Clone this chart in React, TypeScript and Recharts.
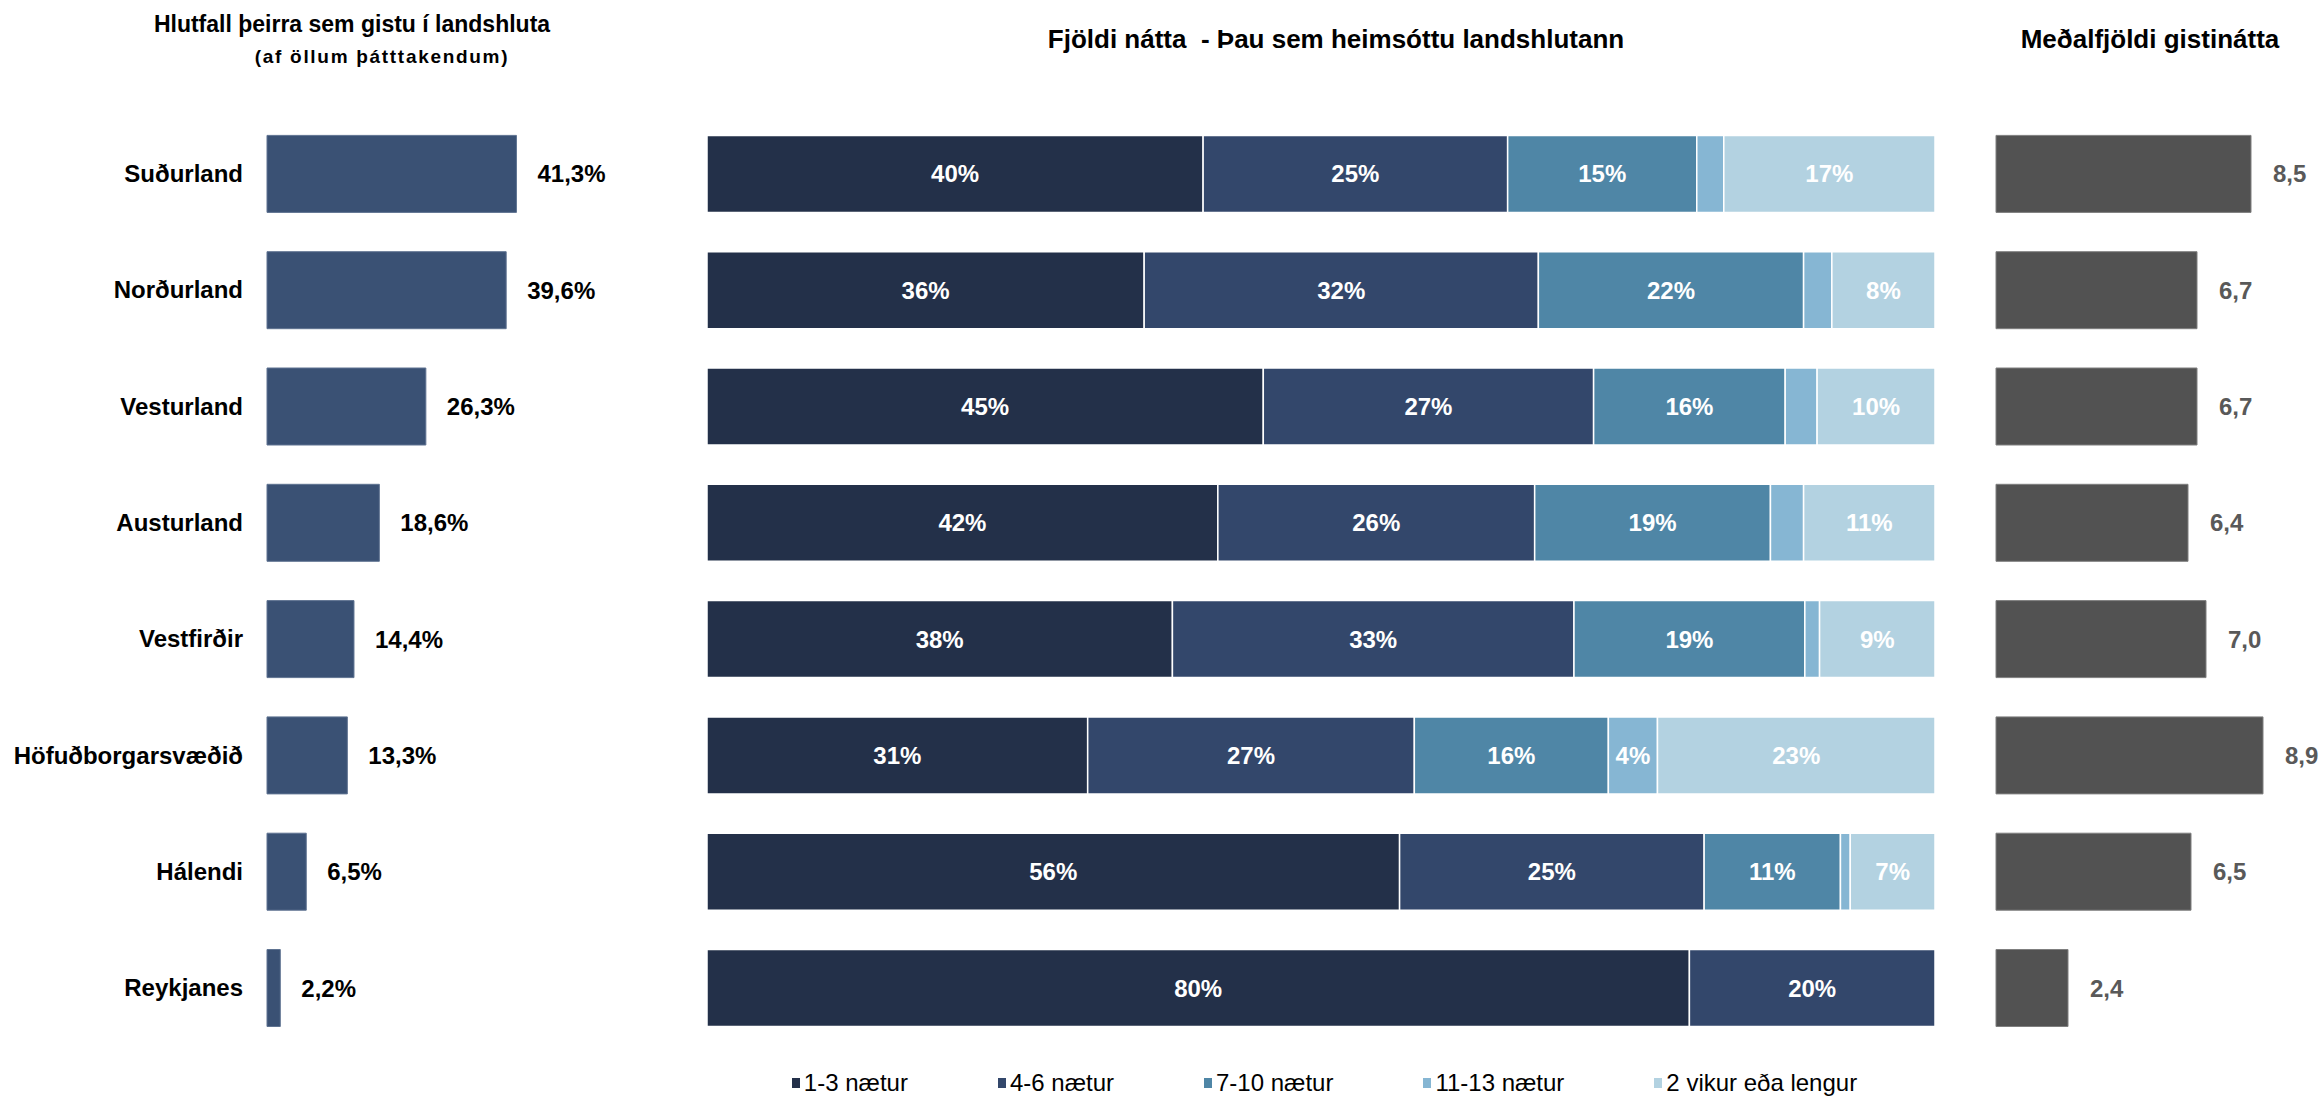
import React from 'react';
import { BarChart, Bar, XAxis, YAxis, LabelList, Legend } from 'recharts';

// ---------- data ----------
const regions = [
  'Suðurland',
  'Norðurland',
  'Vesturland',
  'Austurland',
  'Vestfirðir',
  'Höfuðborgarsvæðið',
  'Hálendi',
  'Reykjanes',
];
const shareStayed = [41.3, 39.6, 26.3, 18.6, 14.4, 13.3, 6.5, 2.2];
const nights1to3 = [40.4, 35.6, 45.3, 41.6, 37.9, 31.0, 56.4, 80];
const nights4to6 = [24.8, 32.1, 26.9, 25.8, 32.7, 26.6, 24.8, 20];
const nights7to10 = [15.4, 21.6, 15.6, 19.2, 18.8, 15.8, 11.1, 0];
const nights11to13 = [2.2, 2.3, 2.6, 2.7, 1.2, 4.0, 0.8, 0];
const nights14plus = [17.2, 8.4, 9.6, 10.7, 9.4, 22.6, 6.9, 0];
const avgNights = [8.5, 6.7, 6.7, 6.4, 7.0, 8.9, 6.5, 2.4];
const seriesNames = ['1-3 nætur', '4-6 nætur', '7-10 nætur', '11-13 nætur', '2 vikur eða lengur'];
const seriesKeys = ['n1', 'n2', 'n3', 'n4', 'n5'];
const seriesColors = ['#233049', '#33476b', '#4f86a6', '#86b6d3', '#b3d2e1'];
const titleLeft = 'Hlutfall þeirra sem gistu í landshluta';
const subtitleLeft = '(af öllum þátttakendum)';
const titleMiddle = 'Fjöldi nátta  - Þau sem heimsóttu landshlutann';
const titleRight = 'Meðalfjöldi gistinátta';

// ---------- derived tables ----------
const seriesValues = [nights1to3, nights4to6, nights7to10, nights11to13, nights14plus];
const tableData = regions.map((region, i) => {
  const row: any = { region, share: shareStayed[i], avg: avgNights[i] };
  seriesKeys.forEach((k, s) => {
    row[k] = seriesValues[s][i];
  });
  return row;
});

// ---------- layout ----------
const FONT = '"Liberation Sans", Arial, Helvetica, sans-serif';
const H = 1098;
const PLOT_TOP = 115.4;
const PLOT_BOTTOM = 52.2;
const BAR = 77;

const fmtPct1 = (v: any) => `${Number(v).toFixed(1).replace('.', ',')}%`;
const fmtDec1 = (v: any) => Number(v).toFixed(1).replace('.', ',');
const fmtSeg = (v: any) => (Number(v) >= 3 ? `${Math.round(Number(v))}%` : '');

const titleStyle = (
  cx: number,
  cy: number,
  size: number,
  letterSpacing = 0
): React.CSSProperties => ({
  position: 'absolute',
  left: cx - 400,
  width: 800,
  top: cy - size * 0.6,
  lineHeight: `${size * 1.2}px`,
  fontSize: size,
  fontWeight: 700,
  fontFamily: FONT,
  textAlign: 'center',
  color: '#000',
  whiteSpace: 'pre',
  letterSpacing,
});

const LegendContent = () => (
  <div
    style={{
      height: 30,
      display: 'flex',
      justifyContent: 'center',
      alignItems: 'center',
      fontFamily: FONT,
      fontSize: 24,
      color: '#000',
      paddingRight: 11,
    }}
  >
    {seriesNames.map((name, i) => (
      <div
        key={name}
        style={{
          display: 'flex',
          alignItems: 'center',
          marginRight: i < seriesNames.length - 1 ? 90 : 0,
          whiteSpace: 'nowrap',
        }}
      >
        <span
          style={{
            display: 'inline-block',
            width: 8,
            height: 10,
            background: seriesColors[i],
            marginRight: 4,
          }}
        />
        <span>{name}</span>
      </div>
    ))}
  </div>
);

export default function App() {
  return (
    <div
      style={{
        position: 'absolute',
        left: 0,
        top: 0,
        width: 2323,
        height: H,
        background: '#fff',
        overflow: 'hidden',
      }}
    >
      {/* titles */}
      <div style={titleStyle(352, 25, 23)}>{titleLeft}</div>
      <div style={titleStyle(382, 57, 19, 1.7)}>{subtitleLeft}</div>
      <div style={titleStyle(1336, 40, 26)}>{titleMiddle}</div>
      <div style={titleStyle(2150, 40, 26)}>{titleRight}</div>

      {/* left: share of respondents who stayed */}
      <div style={{ position: 'absolute', left: 0, top: 0 }}>
        <BarChart
          layout="vertical"
          width={660}
          height={H}
          data={tableData}
          margin={{ top: PLOT_TOP, bottom: PLOT_BOTTOM, left: 0, right: 91 }}
        >
          <XAxis type="number" hide domain={[0, 50]} />
          <YAxis
            type="category"
            dataKey="region"
            width={267}
            axisLine={false}
            tickLine={false}
            tickSize={0}
            tickMargin={24}
            interval={0}
            tick={{ fill: '#000', fontSize: 24, fontWeight: 700, fontFamily: FONT }}
          />
          <Bar
            dataKey="share"
            fill="#3a5174"
            stroke="#5f7391"
            strokeWidth={1}
            barSize={BAR}
            isAnimationActive={false}
          >
            <LabelList
              dataKey="share"
              position="right"
              offset={21}
              formatter={fmtPct1}
              fill="#000"
              fontSize={24}
              fontWeight={700}
              fontFamily={FONT}
            />
          </Bar>
        </BarChart>
      </div>

      {/* middle: distribution of nights */}
      <div style={{ position: 'absolute', left: 680, top: 0 }}>
        <BarChart
          layout="vertical"
          width={1300}
          height={H}
          data={tableData}
          stackOffset="expand"
          margin={{ top: PLOT_TOP, bottom: PLOT_BOTTOM - 30, left: 27, right: 45 }}
        >
          <XAxis type="number" hide domain={[0, 1]} />
          <YAxis type="category" dataKey="region" hide />
          {seriesKeys.map((k, i) => (
            <Bar
              key={k}
              dataKey={k}
              name={seriesNames[i]}
              stackId="nights"
              fill={seriesColors[i]}
              stroke="#ffffff"
              strokeWidth={1.5}
              barSize={BAR}
              isAnimationActive={false}
            >
              <LabelList
                dataKey={k}
                position="center"
                formatter={fmtSeg}
                fill="#fff"
                fontSize={24}
                fontWeight={700}
                fontFamily={FONT}
              />
            </Bar>
          ))}
          <Legend
            verticalAlign="bottom"
            align="center"
            content={<LegendContent />}
            wrapperStyle={{ top: 1068, left: 0, width: 1300 }}
          />
        </BarChart>
      </div>

      {/* right: average nights */}
      <div style={{ position: 'absolute', left: 1960, top: 0 }}>
        <BarChart
          layout="vertical"
          width={363}
          height={H}
          data={tableData}
          margin={{ top: PLOT_TOP, bottom: PLOT_BOTTOM, left: 36, right: 27 }}
        >
          <XAxis type="number" hide domain={[0, 10]} />
          <YAxis type="category" dataKey="region" hide />
          <Bar
            dataKey="avg"
            fill="#525252"
            stroke="#7f7f7f"
            strokeWidth={1}
            barSize={BAR}
            isAnimationActive={false}
          >
            <LabelList
              dataKey="avg"
              position="right"
              offset={22}
              formatter={fmtDec1}
              fill="#595959"
              fontSize={24}
              fontWeight={700}
              fontFamily={FONT}
            />
          </Bar>
        </BarChart>
      </div>
    </div>
  );
}
